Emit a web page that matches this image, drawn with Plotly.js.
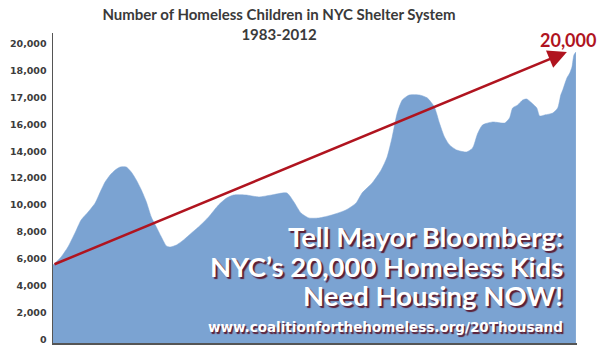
<!DOCTYPE html>
<html>
<head>
<meta charset="utf-8">
<script src="https://cdn.plot.ly/plotly-3.0.1.min.js"></script>
<style>html,body{margin:0;padding:0;background:#fff;}#chart{width:600px;height:353px;}</style>
</head>
<body>
<div id="chart"></div>
<script>
// Years (decimal) read along the x axis, 1983–2012
var years = [1983.00,1983.45,1983.83,1984.22,1984.56,1984.95,1985.34,1985.62,1985.89,1986.17,1986.45,1986.73,1987.06,1987.34,1987.62,1987.90,1988.18,1988.45,1988.73,1989.01,1989.29,1989.51,1989.85,1990.24,1990.68,1991.07,1991.63,1992.18,1992.63,1993.02,1993.69,1994.41,1995.13,1995.97,1996.36,1996.75,1997.19,1997.75,1998.47,1999.25,1999.81,2000.14,2000.70,2001.20,2001.53,2001.81,2002.09,2002.37,2002.76,2003.32,2003.76,2004.15,2004.43,2004.71,2004.99,2005.38,2005.93,2006.27,2006.54,2006.82,2007.38,2008.05,2008.32,2008.49,2008.77,2009.05,2009.27,2009.55,2009.83,2009.99,2010.27,2010.72,2010.99,2011.16,2011.27,2011.50,2011.66,2011.78,2011.89,2012.00];
// Height of the area, in the chart's (evenly spaced) axis units
var children = [5530,6130,6876,7918,8887,9483,10153,10972,11717,12239,12611,12835,12835,12462,11866,11121,10228,9110,8365,7620,6950,6876,7024,7397,7918,8365,9110,10004,10526,10749,10749,10600,10749,10898,10228,9408,9036,9036,9259,9632,10153,10898,11643,12611,13580,15069,16857,17826,18198,18198,17975,17304,16112,15069,14474,14101,13952,14250,15293,15963,16187,16112,16485,17230,17453,17826,17900,17602,17230,16634,16708,16857,17230,18198,18570,19464,19837,20284,21178,21401];
// Axis tick positions and the labels printed on the original chart
var tickPos = [0,2000,4000,6000,8000,10000,12000,14000,16000,18000,20000,22000];
var tickLabels = ['0','2,000','4,000','6,000','8,000','10,000','12,000','14,000','16,000','17,000','18,000','20,000'];
var titleText = 'Number of Homeless Children in NYC Shelter System<br>1983-2012';
var messageLines = ['Tell Mayor Bloomberg:', 'NYC\u2019s 20,000 Homeless Kids', 'Need Housing NOW!'];
var urlText = 'www.coalitionforthehomeless.org/20Thousand';
var calloutText = '20,000';
var arrowFrom = [1983.0, 5540];
var arrowTo = [2011.5, 21400];

var yRange = [-280, 22816];
var xRange = [1983.0, 2012.06];

var baseline = years.map(function(){ return yRange[0]; });

var traces = [
  {x: years, y: baseline, type: 'scatter', mode: 'lines', line: {width: 0, color: 'rgba(0,0,0,0)'}, hoverinfo: 'skip', showlegend: false},
  {x: years, y: children, type: 'scatter', mode: 'lines', fill: 'tonexty', fillcolor: 'rgb(123,163,210)', line: {width: 0.5, color: 'rgb(123,163,210)', shape: 'spline', smoothing: 0.6}, showlegend: false}
];

var shadow = '2px 2px 1px rgb(92,30,52)';
var annotations = [];
var lineY = [0.343, 0.248, 0.152];
messageLines.forEach(function(t, i){
  annotations.push({xref: 'paper', yref: 'paper', x: 0.977, y: lineY[i], xanchor: 'right', yanchor: 'middle', showarrow: false, text: t,
    font: {family: 'Lato', size: 27.5, color: '#ffffff', weight: 'bold', shadow: shadow}});
});
annotations.push({xref: 'paper', yref: 'paper', x: 0.977, y: 0.052, xanchor: 'right', yanchor: 'middle', showarrow: false, text: urlText,
  font: {family: 'DejaVu Sans', size: 13.5, color: '#ffffff', weight: 'bold', shadow: '1.5px 1.5px 1px rgb(92,30,52)'}});
annotations.push({xref: 'paper', yref: 'paper', x: 0.983, y: 0.977, xanchor: 'center', yanchor: 'middle', showarrow: false, text: calloutText,
  font: {family: 'Lato', size: 18, color: '#b0141f', weight: 'bold'}});
annotations.push({xref: 'x', yref: 'y', axref: 'x', ayref: 'y', x: arrowTo[0], y: arrowTo[1], ax: arrowFrom[0], ay: arrowFrom[1], text: '',
  showarrow: true, arrowhead: 2, arrowsize: 1.5, arrowwidth: 2.5, arrowcolor: '#b0141f', standoff: 0, startstandoff: 0});

var layout = {
  width: 600, height: 353,
  margin: {l: 53, r: 23, t: 33, b: 10},
  paper_bgcolor: '#ffffff', plot_bgcolor: '#ffffff',
  title: {text: titleText, x: 0.465, xanchor: 'center', xref: 'container', y: 0.943, yanchor: 'top', yref: 'container',
    font: {family: 'Lato', size: 15, color: '#3a3a3a', weight: 'bold'}},
  xaxis: {range: xRange, showgrid: false, zeroline: false, showticklabels: false, ticks: '', showline: true, linecolor: '#555', linewidth: 1.5, fixedrange: true},
  yaxis: {range: yRange, tickvals: tickPos, ticktext: tickLabels, showgrid: false, zeroline: false, ticks: 'outside', ticklen: 3, tickcolor: 'rgba(0,0,0,0)',
    showline: true, linecolor: '#555', linewidth: 1.5, tickfont: {family: 'DejaVu Sans', size: 9.5, color: '#3c3c3c', weight: 'bold'}, fixedrange: true},
  annotations: annotations,
  showlegend: false
};

Plotly.newPlot('chart', traces, layout, {displayModeBar: false, staticPlot: true});
</script>
</body>
</html>
